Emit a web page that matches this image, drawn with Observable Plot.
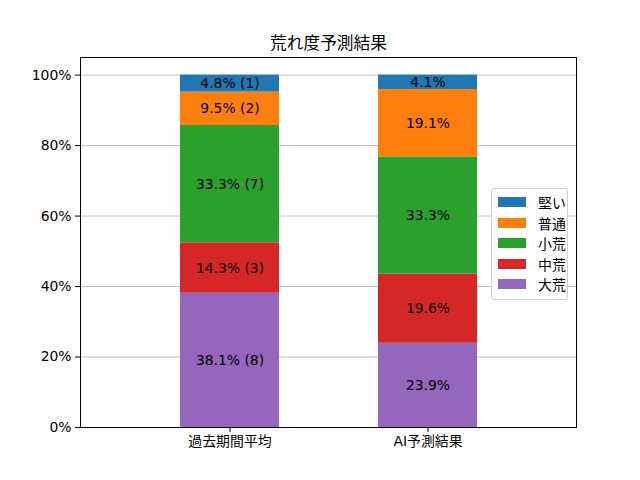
<!DOCTYPE html>
<html>
<head>
<meta charset="utf-8">
<script src="https://cdn.jsdelivr.net/npm/d3@7"></script>
<script src="https://cdn.jsdelivr.net/npm/@observablehq/plot@0.6"></script>
<style>
  body { margin: 0; background: #fff; }
  #wrap { position: relative; width: 640px; height: 480px; font-family: "DejaVu Sans", "Noto Sans CJK JP", sans-serif; }
  #legend { position: absolute; left: 491px; top: 188px; width: 77px; box-sizing: border-box; padding: 3px 0 4px 6px;
    border: 1px solid #d0d0d0; border-radius: 3px; background: rgba(255,255,255,0.85); font-size: 13.9px; }
  .item { display: flex; align-items: center; height: 20.5px; }
  .sw { width: 28px; height: 10px; margin-right: 12px; }
</style>
</head>
<body>
<div id="wrap"></div>
<script>
const categories = ["過去期間平均", "AI予測結果"];
const levels = ["大荒", "中荒", "小荒", "普通", "堅い"];
const levelColors = ["#9467bd", "#d62728", "#2ca02c", "#ff7f0e", "#1f77b4"];
const pastPct = [38.1, 14.3, 33.3, 9.5, 4.8];
const pastCount = [8, 3, 7, 2, 1];
const aiPct = [23.9, 19.6, 33.3, 19.1, 4.1];
const yTicks = [0, 0.2, 0.4, 0.6, 0.8, 1.0];

const rows = [];
levels.forEach((lv, i) => {
  rows.push({cat: categories[0], level: lv, v: pastPct[i] / 100, label: `${pastPct[i].toFixed(1)}% (${pastCount[i]})`});
  rows.push({cat: categories[1], level: lv, v: aiPct[i] / 100, label: `${aiPct[i].toFixed(1)}%`});
});

const font = '"DejaVu Sans", "Noto Sans CJK JP", sans-serif';
const chart = Plot.plot({
  width: 640,
  height: 480,
  marginTop: 57,
  marginBottom: 53,
  marginLeft: 80,
  marginRight: 64,
  style: {fontFamily: font, fontSize: "13.9px", background: "white", color: "black"},
  x: {domain: categories, padding: 0.5, label: null},
  y: {domain: [0, 1.05], label: null},
  color: {domain: levels, range: levelColors},
  marks: [
    Plot.ruleY(yTicks, {stroke: "#b0b0b0", strokeWidth: 0.8}),
    Plot.barY(rows, Plot.stackY({x: "cat", y: "v", z: "level", fill: "level"})),
    Plot.text(rows, Plot.stackY({x: "cat", y: "v", z: "level", text: "label", fill: "black", fontSize: 13.9})),
    Plot.frame({stroke: "black", strokeWidth: 1}),
    Plot.axisY({ticks: yTicks, tickFormat: d3.format(".0%"), tickSize: 5, tickPadding: 4, fontSize: 13.9}),
    Plot.axisX({tickSize: 5, tickPadding: 4, fontSize: 13.9}),
    Plot.text(["荒れ度予測結果"], {frameAnchor: "top", dy: -9, lineAnchor: "bottom", fontSize: 16.7})
  ]
});
const wrap = document.getElementById("wrap");
wrap.appendChild(chart);

const legend = document.createElement("div");
legend.id = "legend";
levels.slice().reverse().forEach(lv => {
  const it = document.createElement("div");
  it.className = "item";
  const sw = document.createElement("div");
  sw.className = "sw";
  sw.style.background = levelColors[levels.indexOf(lv)];
  const tx = document.createElement("span");
  tx.textContent = lv;
  it.appendChild(sw);
  it.appendChild(tx);
  legend.appendChild(it);
});
wrap.appendChild(legend);
</script>
</body>
</html>
